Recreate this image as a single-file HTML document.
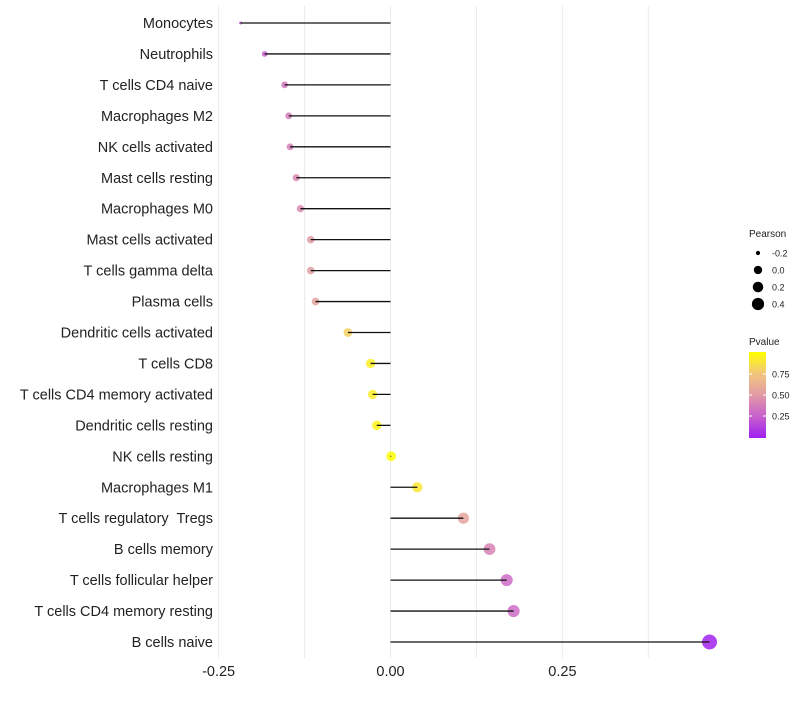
<!DOCTYPE html>
<html><head><meta charset="utf-8"><style>
body{margin:0;background:#fff}
svg{font-family:"Liberation Sans",sans-serif}
text{white-space:pre}
</style></head><body>
<svg id="chart" width="800" height="700">
<defs>
<linearGradient id="pgrad" x1="0" y1="1" x2="0" y2="0">
<stop offset="0" stop-color="#a020f0"/><stop offset="0.25" stop-color="#c660cc"/>
<stop offset="0.5" stop-color="#e29aa6"/><stop offset="0.75" stop-color="#f2c67c"/>
<stop offset="1" stop-color="#ffff00"/></linearGradient>
</defs>
<g id="grid"></g><g id="marks"></g><g id="labels"></g><g id="legend"></g>
</svg>
<script>
const cells = ["Monocytes","Neutrophils","T cells CD4 naive","Macrophages M2","NK cells activated","Mast cells resting","Macrophages M0","Mast cells activated","T cells gamma delta","Plasma cells","Dendritic cells activated","T cells CD8","T cells CD4 memory activated","Dendritic cells resting","NK cells resting","Macrophages M1","T cells regulatory  Tregs","B cells memory","T cells follicular helper","T cells CD4 memory resting","B cells naive"];
const pearson = [-0.218,-0.183,-0.154,-0.148,-0.146,-0.137,-0.131,-0.116,-0.116,-0.109,-0.062,-0.029,-0.026,-0.020,0.001,0.039,0.106,0.144,0.169,0.179,0.464];
const pvalue = [0.2,0.25,0.35,0.38,0.38,0.42,0.44,0.52,0.52,0.55,0.8,0.93,0.92,0.95,0.99,0.9,0.55,0.4,0.3,0.3,0.01];
const xTicks = [-0.25,0,0.25];
const xTickLabels = ["-0.25","0.00","0.25"];
const xMinor = [-0.125,0.125,0.375];
const sizeLegend = [-0.2,0,0.2,0.4];
const sizeLegendLabels = ["-0.2","0.0","0.2","0.4"];
const pTicks = [0.25,0.5,0.75];
const pTickLabels = ["0.25","0.50","0.75"];

const NS="http://www.w3.org/2000/svg";
const x = v => 390.5 + v*687.6;
const y = i => 23 + i*30.95;
const pmin = Math.min(...pearson), pmax = Math.max(...pearson);
const r = v => { const t = Math.max(0, Math.min(1, (v-pmin)/(pmax-pmin))); return 1.5 + 6*Math.sqrt(t); };
const stops=[[0,[160,32,240]],[0.25,[198,96,204]],[0.5,[226,154,166]],[0.75,[242,198,124]],[1,[255,255,0]]];
function col(p){for(let k=1;k<stops.length;k++){if(p<=stops[k][0]){const a=stops[k-1],b=stops[k],t=(p-a[0])/(b[0]-a[0]);return "rgb("+a[1].map((c,j)=>Math.round(c+(b[1][j]-c)*t)).join(",")+")";}}return "rgb(255,255,0)";}
function mk(tag,attrs,parent,text){const e=document.createElementNS(NS,tag);for(const k in attrs)e.setAttribute(k,attrs[k]);if(text!==undefined)e.textContent=text;parent.appendChild(e);return e;}
const grid=document.getElementById('grid'),marks=document.getElementById('marks'),labels=document.getElementById('labels'),legend=document.getElementById('legend');
xMinor.concat(xTicks).forEach(v=>{const l=mk('line',{x1:x(v),x2:x(v),y1:6,y2:658,stroke:'#ebebeb','stroke-width':1},grid);

});
xTicks.forEach((v,i)=>{const t=mk('text',{x:x(v),y:676,'text-anchor':'middle','font-size':14.5,fill:'#222'},labels,xTickLabels[i]);

});
cells.forEach((c,i)=>{
const t=mk('text',{x:213,y:y(i)+5,'text-anchor':'end','font-size':14.5,fill:'#222'},labels,c);


const d=mk('circle',{cx:x(pearson[i]),cy:y(i),r:r(pearson[i]),fill:col(pvalue[i]),'fill-opacity':0.85},marks);


const s=mk('line',{x1:x(0),x2:x(pearson[i]),y1:y(i),y2:y(i),stroke:'#111','stroke-width':1.3},marks);


});
let t=mk('text',{x:749,y:237,'font-size':10,fill:'#222'},legend,'Pearson');


sizeLegend.forEach((v,i)=>{const cy=253+i*17;
const c=mk('circle',{cx:758,cy:cy,r:r(v)*0.85,fill:'#000'},legend);


const l=mk('text',{x:772,y:cy+3.5,'font-size':9,fill:'#222'},legend,sizeLegendLabels[i]);

});
t=mk('text',{x:749,y:345,'font-size':10,fill:'#222'},legend,'Pvalue');


const bar=mk('rect',{x:749,y:352,width:17,height:86,fill:'url(#pgrad)'},legend);


pTicks.forEach((v,i)=>{const yy=437-v*84;
mk('line',{x1:749,x2:752,y1:yy,y2:yy,stroke:'#fff'},legend);
mk('line',{x1:763,x2:766,y1:yy,y2:yy,stroke:'#fff'},legend);
const l=mk('text',{x:772,y:yy+3.5,'font-size':9,fill:'#222'},legend,pTickLabels[i]);

});
</script>
</body></html>
